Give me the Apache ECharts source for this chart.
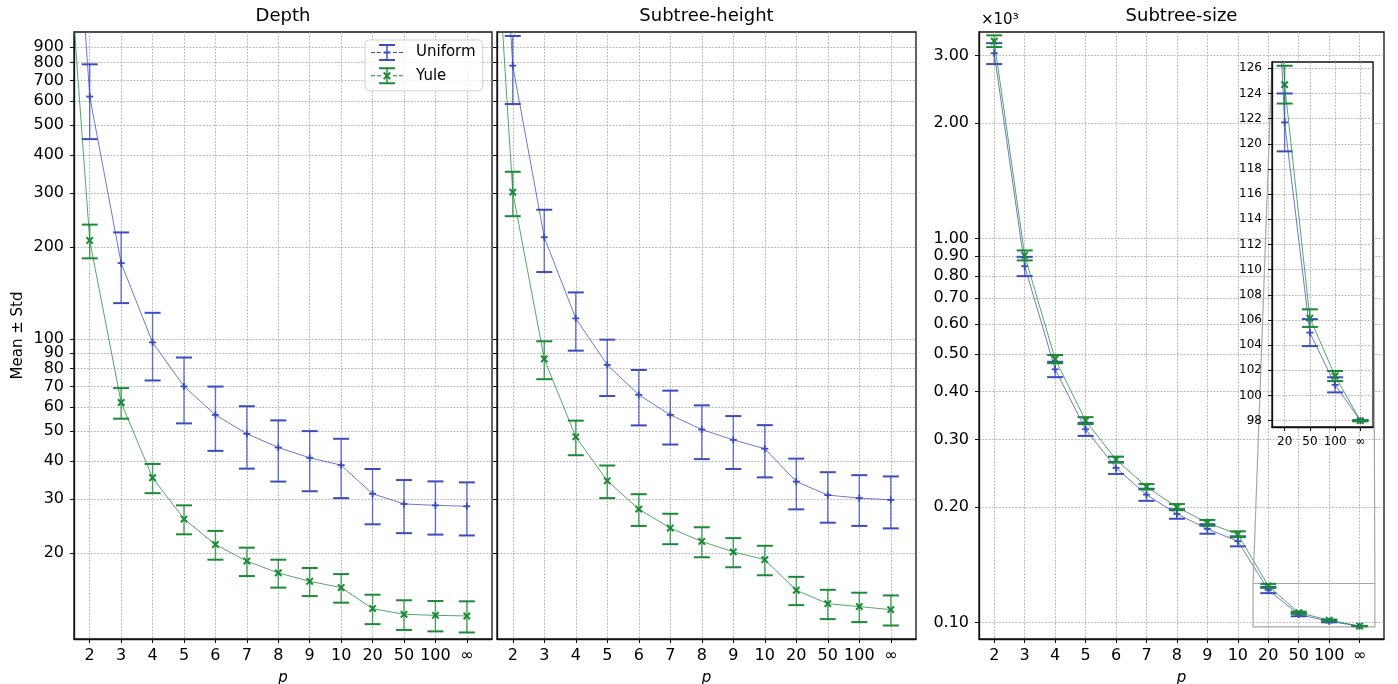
<!DOCTYPE html>
<html>
<head>
<meta charset="utf-8">
<script src="https://cdn.jsdelivr.net/npm/echarts@6.0.0/dist/echarts.min.js"></script>
<style>
html, body { margin: 0; padding: 0; background: #fff; }
#chart { width: 1398px; height: 684px; }
</style>
</head>
<body>
<div id="chart"></div>
<script>
// p values; index i is drawn at x = i - 1, so p = 1 sits just left of the axis
const pLabels = ['1', '2', '3', '4', '5', '6', '7', '8', '9', '10', '20', '50', '100', '∞'];

// Depth
const depthUniformMean = [21000, 620, 177, 97.5, 70, 56.5, 49, 44.2, 40.9, 38.7, 31.2, 28.9, 28.6, 28.4];
const depthUniformStd = [null, 170, 46, 24.3, 17, 13.4, 11.3, 10, 9.1, 8.5, 6.4, 5.7, 5.65, 5.6];
const depthYuleMean = [5500, 210, 62, 35.2, 25.8, 21.3, 18.8, 17.2, 16.15, 15.4, 13.15, 12.6, 12.5, 12.44];
const depthYuleStd = [null, 26.5, 7.1, 3.85, 2.8, 2.3, 2.0, 1.8, 1.7, 1.65, 1.45, 1.4, 1.42, 1.45];

// Subtree-height
const heightUniformMean = [40000, 782, 215, 116.8, 82.3, 65.7, 56.5, 50.6, 46.8, 43.8, 34.2, 30.9, 30.2, 29.8];
const heightUniformStd = [null, 196, 49.5, 25.2, 17.2, 13.5, 11.3, 10.1, 9.2, 8.5, 6.45, 5.8, 5.7, 5.75];
const heightYuleMean = [13000, 302, 86.1, 47.9, 34.4, 27.8, 24.1, 21.8, 20.15, 19.0, 15.1, 13.65, 13.35, 13.05];
const heightYuleStd = [null, 50, 12.2, 6.2, 4.2, 3.3, 2.75, 2.45, 2.2, 2.1, 1.6, 1.5, 1.47, 1.47];

// Subtree-size
const sizeUniformMean = [null, 3040, 848, 457, 319, 253, 215.5, 192, 175.5, 163, 121.7, 105.0, 100.85, 98.0];
const sizeUniformStd = [null, 190, 49, 21, 12.5, 9, 7.8, 5.5, 5, 4.9, 2.3, 1.07, 0.6, 0.05];
const sizeYuleMean = [null, 3270, 905, 486, 336, 266, 226, 200, 182, 170, 124.7, 106.15, 101.55, 98.0];
const sizeYuleStd = [null, 115, 27, 12, 7, 4.7, 3.6, 3.7, 3.2, 3.0, 1.5, 0.7, 0.4, 0.03];

// tick labels
const xTicks = [0, 1, 2, 3, 4, 5, 6, 7, 8, 9, 10, 11, 12];
const insetXTicks = [9, 10, 11, 12];
const depthTicks = [20, 30, 40, 50, 60, 70, 80, 90, 100, 200, 300, 400, 500, 600, 700, 800, 900];
const sizeTicks = [100, 200, 300, 400, 500, 600, 700, 800, 900, 1000, 2000, 3000];
const insetYTicks = [98, 100, 102, 104, 106, 108, 110, 112, 114, 116, 118, 120, 122, 124, 126];
const insetX = [8.5, 12.5];
const insetY = [97.5, 126.5];

const FONT = 'DejaVu Sans';
const BLUE = '#3b4cc0';
const GREEN = '#1a8a35';
const lg = Math.log10;

const gridLine = { color: '#ababab', width: 0.8, type: [2, 1.3] };

function linePoints(mean, useLog) {
  return mean.map((m, i) => (m == null ? null : [i - 1, useLog ? lg(m) : m])).filter(Boolean);
}
function barPoints(mean, std, useLog) {
  const f = useLog ? lg : (v) => v;
  return mean
    .map((m, i) => (m == null || std[i] == null ? null : [i - 1, f(m - std[i]), f(m + std[i]), f(m)]))
    .filter(Boolean);
}

function errRender(marker) {
  return function (params, api) {
    const x = api.value(0);
    const lo = api.coord([x, api.value(1)]);
    const hi = api.coord([x, api.value(2)]);
    const mid = api.coord([x, api.value(3)]);
    const c = api.visual('color');
    const cw = 8;
    const kids = [
      { type: 'line', shape: { x1: lo[0], y1: lo[1], x2: hi[0], y2: hi[1] }, style: { stroke: c, lineWidth: 1.4, opacity: 0.75 } },
      { type: 'line', shape: { x1: hi[0] - cw, y1: hi[1], x2: hi[0] + cw, y2: hi[1] }, style: { stroke: c, lineWidth: 2 } },
      { type: 'line', shape: { x1: lo[0] - cw, y1: lo[1], x2: lo[0] + cw, y2: lo[1] }, style: { stroke: c, lineWidth: 2 } }
    ];
    if (marker === 'plus') {
      const m = 3.5;
      kids.push({ type: 'line', shape: { x1: mid[0] - m, y1: mid[1], x2: mid[0] + m, y2: mid[1] }, style: { stroke: c, lineWidth: 1.8 } });
      kids.push({ type: 'line', shape: { x1: mid[0], y1: mid[1] - m, x2: mid[0], y2: mid[1] + m }, style: { stroke: c, lineWidth: 1.8 } });
    } else {
      const m = 3.2;
      kids.push({ type: 'line', shape: { x1: mid[0] - m, y1: mid[1] - m, x2: mid[0] + m, y2: mid[1] + m }, style: { stroke: c, lineWidth: 2 } });
      kids.push({ type: 'line', shape: { x1: mid[0] - m, y1: mid[1] + m, x2: mid[0] + m, y2: mid[1] - m }, style: { stroke: c, lineWidth: 2 } });
    }
    return { type: 'group', children: kids };
  };
}

function lineSeries(name, gi, data, color, z) {
  return {
    type: 'line', name, xAxisIndex: gi, yAxisIndex: gi, data,
    symbol: 'none', showSymbol: false, clip: true, silent: true, z,
    lineStyle: { color, width: 1, opacity: 0.75 },
    itemStyle: { color }
  };
}
function errSeries(name, gi, data, color, marker, z) {
  return {
    type: 'custom', name: name + ' std', xAxisIndex: gi, yAxisIndex: gi, data,
    renderItem: errRender(marker), clip: true, silent: true, z,
    encode: { x: 0, y: [1, 2, 3] },
    itemStyle: { color }
  };
}
function panelSeries(gi, uMean, uStd, yMean, yStd, useLog, z) {
  return [
    lineSeries('Uniform', gi, linePoints(uMean, useLog), BLUE, z),
    errSeries('Uniform', gi, barPoints(uMean, uStd, useLog), BLUE, 'plus', z),
    lineSeries('Yule', gi, linePoints(yMean, useLog), GREEN, z),
    errSeries('Yule', gi, barPoints(yMean, yStd, useLog), GREEN, 'cross', z)
  ];
}

function xAxisFor(gi, min, max, ticks, fontSize, name, z) {
  return {
    type: 'value', gridIndex: gi, min, max, z,
    name, nameLocation: 'middle', nameGap: 32,
    nameTextStyle: { fontStyle: 'italic', fontSize: 15, color: '#000', fontFamily: FONT },
    axisLine: { show: true, onZero: false, lineStyle: { color: '#111', width: 1.3 } },
    axisTick: { show: true, customValues: ticks, length: 4, lineStyle: { color: '#111', width: 1 } },
    axisLabel: {
      customValues: ticks, formatter: (v) => pLabels[Math.round(v) + 1], fontSize, color: '#000', fontFamily: FONT, margin: 9,
      hideOverlap: false, showMinLabel: true, showMaxLabel: true
    },
    splitLine: { show: true, lineStyle: gridLine }
  };
}
function yAxisFor(gi, min, max, ticks, labelTicks, fmt, fontSize, z, extra) {
  return Object.assign({
    type: 'value', gridIndex: gi, position: 'left', offset: 0, min, max, z,
    axisLine: { show: true, onZero: false, lineStyle: { color: '#111', width: 1.3 } },
    axisTick: { show: true, customValues: ticks, length: 4, lineStyle: { color: '#111', width: 1 } },
    axisLabel: {
      show: !!fmt, customValues: labelTicks, formatter: fmt, fontSize,
      color: '#000', fontFamily: FONT, margin: 10, hideOverlap: false
    },
    splitLine: { show: true, lineStyle: gridLine }
  }, extra || {});
}

const depthFmt = (v) => String(Math.round(Math.pow(10, v)));
const sizeFmt = (v) => (Math.pow(10, v) / 1000).toFixed(2);
const insetFmt = (v) => String(Math.round(v));

const depthLog = depthTicks.map(lg);
const depthTop = depthLog.slice(-1);      // 900, on its own label axis so it is not culled
const depthRest = depthLog.slice(0, -1);

const dash = 'M0,9.5h4v1h-4z M6,9.5h4v1h-4z M22,9.5h4v1h-4z M28,9.5h4v1h-4z';
const caps = 'M8,1.5h16v2h-16z M8,16.5h16v2h-16z M15.3,2h1.4v16h-1.4z';
const pad = 'M39.9,0h0.1v0.1h-0.1z M39.9,19.9h0.1v0.1h-0.1z';
const uniformIcon = 'path://' + [dash, caps, pad, 'M12.5,9h7v2h-7z'].join(' ');
const yuleIcon = 'path://' + [dash, caps, pad, 'M12,7.4L13.4,6L20,12.6L18.6,14z M18.6,6L20,7.4L13.4,14L12,12.6z'].join(' ');

const frame = { show: true, backgroundColor: '#fff', borderColor: '#111', borderWidth: 1.3, containLabel: false, outerBoundsMode: 'none' };

const chart = echarts.init(document.getElementById('chart'), null, { renderer: 'canvas' });

const option = {
  animation: false,
  backgroundColor: '#fff',
  textStyle: { fontFamily: FONT },
  grid: [
    Object.assign({ left: 74, top: 32, width: 418, height: 607 }, frame),
    Object.assign({ left: 497, top: 32, width: 419, height: 607 }, frame),
    Object.assign({ left: 979, top: 32, width: 405, height: 607 }, frame),
    Object.assign({ left: 1272, top: 62, width: 101, height: 365, z: 5 }, frame)
  ],
  xAxis: [
    xAxisFor(0, -0.5, 12.8, xTicks, 16, 'p', 0),
    xAxisFor(1, -0.5, 12.8, xTicks, 16, 'p', 0),
    xAxisFor(2, -0.5, 12.8, xTicks, 16, 'p', 0),
    xAxisFor(3, insetX[0], insetX[1], insetXTicks, 12, '', 6)
  ],
  yAxis: [
    yAxisFor(0, 1.0196, 3.0033, depthLog, depthRest, depthFmt, 16, 0, {
      name: 'Mean ± Std', nameLocation: 'middle', nameGap: 48,
      nameTextStyle: { fontSize: 15, color: '#000', fontFamily: FONT }
    }),
    yAxisFor(1, 1.0196, 3.0033, depthLog, depthRest, null, 16, 0),
    yAxisFor(2, 1.9576, 3.5383, sizeTicks.map(lg), sizeTicks.map(lg), sizeFmt, 16, 0),
    yAxisFor(3, insetY[0], insetY[1], insetYTicks, insetYTicks, insetFmt, 12, 6),
    yAxisFor(0, 1.0196, 3.0033, depthTop, depthTop, depthFmt, 16, 0, {
      axisLine: { show: false, onZero: false },
      axisTick: { show: false, customValues: depthTop },
      splitLine: { show: false }
    })
  ],
  legend: {
    left: 365, top: 40, orient: 'vertical',
    padding: [2.5, 7, 5, 6], itemGap: 3.3, itemWidth: 40, itemHeight: 20,
    backgroundColor: 'rgba(255,255,255,0.8)', borderColor: '#d0d0d0', borderWidth: 1, borderRadius: 4,
    selectedMode: false,
    itemStyle: { borderWidth: 0 },
    textStyle: { fontSize: 15, color: '#000', fontFamily: FONT },
    data: [{ name: 'Uniform', icon: uniformIcon }, { name: 'Yule', icon: yuleIcon }]
  },
  series: [].concat(
    panelSeries(0, depthUniformMean, depthUniformStd, depthYuleMean, depthYuleStd, true, 2),
    panelSeries(1, heightUniformMean, heightUniformStd, heightYuleMean, heightYuleStd, true, 2),
    panelSeries(2, sizeUniformMean, sizeUniformStd, sizeYuleMean, sizeYuleStd, true, 2),
    panelSeries(3, sizeUniformMean, sizeUniformStd, sizeYuleMean, sizeYuleStd, false, 7)
  )
};

// zoom rectangle in the Subtree-size panel
option.series[8].markArea = {
  silent: true,
  itemStyle: { color: 'rgba(0,0,0,0)', borderColor: '#a8a8a8', borderWidth: 1.2 },
  data: [[{ coord: [insetX[0], lg(insetY[0])] }, { coord: [insetX[1], lg(insetY[1])] }]]
};

chart.setOption(option);

// titles, x10^3 and inset connectors
const rTL = chart.convertToPixel({ gridIndex: 2 }, [insetX[0], lg(insetY[1])]);
const rTR = chart.convertToPixel({ gridIndex: 2 }, [insetX[1], lg(insetY[1])]);
const iTL = chart.convertToPixel({ gridIndex: 3 }, [insetX[0], insetY[1]]);
const iTR = chart.convertToPixel({ gridIndex: 3 }, [insetX[1], insetY[1]]);

function title(text, x) {
  return { type: 'text', x, y: 16, style: { text, fontSize: 18, fontFamily: FONT, fill: '#000', align: 'center', verticalAlign: 'middle' } };
}
function connector(a, b) {
  return { type: 'line', z: 4, silent: true, shape: { x1: a[0], y1: a[1], x2: b[0], y2: b[1] }, style: { stroke: '#a8a8a8', lineWidth: 1.2 } };
}

chart.setOption({
  graphic: [
    title('Depth', 283),
    title('Subtree-height', 706.5),
    title('Subtree-size', 1181.5),
    { type: 'text', x: 981, y: 20, style: { text: '×10³', fontSize: 15, fontFamily: FONT, fill: '#000', align: 'left', verticalAlign: 'middle' } },
    connector(rTL, iTL),
    connector(rTR, iTR)
  ]
});
</script>
</body>
</html>
